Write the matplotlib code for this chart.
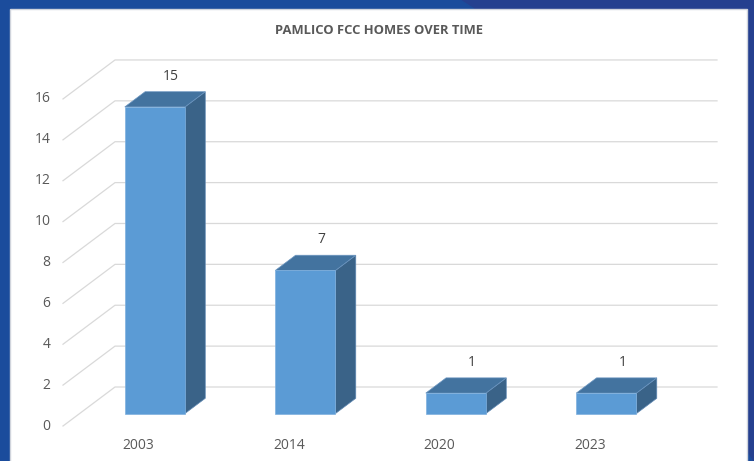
import matplotlib.pyplot as plt
from matplotlib.patches import Polygon, Rectangle

plt.rcParams['font.family'] = ['Open Sans', 'DejaVu Sans']

# data
years = ['2003', '2014', '2020', '2023']
homes = [15, 7, 1, 1]
y_ticks = [0, 2, 4, 6, 8, 10, 12, 14, 16]
title = 'PAMLICO FCC HOMES OVER TIME'

W, H = 754, 461
fig = plt.figure(figsize=(W / 100, H / 100), dpi=100)

# slide background / frame (pixel coords)
bg = fig.add_axes([0, 0, 1, 1])
bg.set_xlim(0, W)
bg.set_ylim(H, 0)
bg.axis('off')
bg.add_patch(Rectangle((0, 0), W, H, color='#1b4c9c', zorder=0))
bg.add_patch(Polygon([(460, 0), (W, 0), (W, H), (474, 9)], closed=True,
                     color='#25408f', zorder=0))
bg.add_patch(Polygon([(0, 9), (474, 9), (460, 0), (0, 0)], closed=True,
                     color='#1b4c9c', zorder=0))
bg.add_patch(Rectangle((0, 9), 10, H, color='#1b4c9c', zorder=0))
bg.add_patch(Rectangle((10, 9), 737, H, facecolor='white',
                       edgecolor='#d0d4dc', lw=1.0, zorder=1))
bg.text(379, 30, title, ha='center', va='center', fontsize=9.4,
        fontweight='bold', color='#595959', zorder=2)

# chart area: front plane 0..16 mapped on pixels
px_cat = 150.5
px_unit = 20.44
left_px, right_px, bottom_px, top_px = 63, 718, 426, 59
ax = fig.add_axes([left_px / W, 1 - bottom_px / H,
                   (right_px - left_px) / W, (bottom_px - top_px) / H])
ax.set_xlim(-0.5, -0.5 + (right_px - left_px) / px_cat)
ax.set_ylim(0, (bottom_px - top_px) / px_unit)
ax.axis('off')

DX = 52 / px_cat
DY = 39 / px_unit
n = len(years)

# back wall gridlines with the oblique left wall edge
for v in y_ticks:
    ax.plot([-0.5, -0.5 + DX, n - 0.5 + DX], [v, v + DY, v + DY],
            color='#d9d9d9', lw=0.9, zorder=1, clip_on=False)
    ax.annotate(str(v), (-0.5, v), xytext=(-9, 0), textcoords='offset points',
                ha='right', va='center', fontsize=10, color='#595959')

f0, f1 = 0.32, 0.71
hw = 0.2
d = f1 - f0
for i, v in enumerate(homes):
    cx = i + f0 * DX
    y0 = f0 * DY
    front = [(cx - hw, y0), (cx + hw, y0), (cx + hw, v + y0), (cx - hw, v + y0)]
    top = [(cx - hw, v + y0), (cx + hw, v + y0),
           (cx + hw + d * DX, v + y0 + d * DY), (cx - hw + d * DX, v + y0 + d * DY)]
    side = [(cx + hw, y0), (cx + hw + d * DX, y0 + d * DY),
            (cx + hw + d * DX, v + y0 + d * DY), (cx + hw, v + y0)]
    ax.add_patch(Polygon(side, closed=True, facecolor='#3a6388',
                         edgecolor='#5f88b3', lw=0.5, zorder=3))
    ax.add_patch(Polygon(top, closed=True, facecolor='#43739f',
                         edgecolor='#6b95c0', lw=0.5, zorder=3))
    ax.add_patch(Polygon(front, closed=True, facecolor='#5b9bd5',
                         edgecolor='#7fb0de', lw=0.5, zorder=4))
    ax.annotate(str(v), (i + 0.63 * DX, v + 0.63 * DY), xytext=(0, 13.4),
                textcoords='offset points', ha='center', va='center',
                fontsize=10, color='#404040', zorder=5)
    ax.annotate(years[i], (i, 0), xytext=(0, -13.7), textcoords='offset points',
                ha='center', va='center', fontsize=10, color='#595959')

fig.savefig('out.png', dpi=100)
